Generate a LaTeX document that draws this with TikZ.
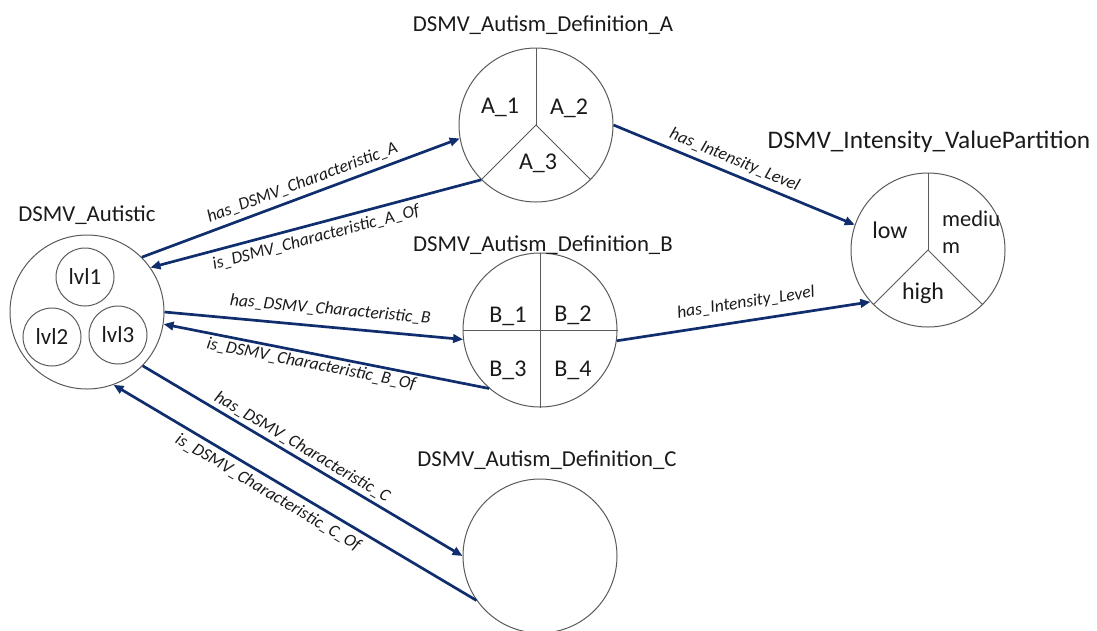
\documentclass[tikz,border=0pt]{standalone}
\usepackage{fontspec}
\setmainfont{Carlito}
\usetikzlibrary{arrows.meta}
\definecolor{link}{HTML}{102E6E}
\definecolor{rim}{HTML}{5A5A5A}
\definecolor{ink}{HTML}{1A1A1A}
\tikzset{
  concept/.style={circle, draw=rim, line width=1pt, inner sep=0pt, minimum size=154pt},
  level/.style={circle, draw=rim, line width=1pt, inner sep=0pt, minimum size=58pt,
                font=\fontsize{23}{27}\selectfont, text=ink},
  divider/.style={draw=rim, line width=0.9pt},
  title/.style={font=\fontsize{22.8}{27}\selectfont, text=ink, inner sep=0pt},
  part/.style={font=\fontsize{24}{28}\selectfont, text=ink, inner sep=0pt},
  rel/.style={draw=link, line width=2.7pt, -{Triangle[length=10pt,width=8.5pt]}},
  lab/.style={font=\fontsize{17.5}{20}\selectfont\itshape, text=ink, sloped, inner sep=5pt}
}
\begin{document}
\begin{tikzpicture}[x=1pt,y=-1pt]
\useasboundingbox (0,0) rectangle (1097,630);

% concepts
\node[concept] (aut)  at (87,312)  {};
\node[concept] (defA) at (536,125) {};
\node[concept] (defB) at (540,330) {};
\node[concept] (defC) at (540,556) {};
\node[concept] (int)  at (928,250) {};

% titles
\node[title] (tAut)  at (87,215)  {DSMV\_Autistic};
\node[title] (tDefA) at (543,25)  {DSMV\_Autism\_Definition\_A};
\node[title] (tDefB) at (543,245) {DSMV\_Autism\_Definition\_B};
\node[title] (tDefC) at (547,460) {DSMV\_Autism\_Definition\_C};
\node[title, font=\fontsize{25.3}{30}\selectfont] (tInt) at (929,142) {DSMV\_Intensity\_ValuePartition};

% severity levels inside the autistic concept
\node[level] (l1) at (85,277)  {lvl1};
\node[level] (l2) at (52,337)  {lvl2};
\node[level] (l3) at (118,335) {lvl3};

% definition A split in three
\draw[divider] (defA.center) -- (defA.90);
\draw[divider] (defA.center) -- (defA.225);
\draw[divider] (defA.center) -- (defA.315);
\node[part] (a1) at (500,107) {A\_1};
\node[part] (a2) at (569,108) {A\_2};
\node[part] (a3) at (538,163) {A\_3};

% definition B split in four
\draw[divider] (defB.north) -- (defB.south);
\draw[divider] (defB.west) -- (defB.east);
\node[part] (b1) at (508,316) {B\_1};
\node[part] (b2) at (573,315) {B\_2};
\node[part] (b3) at (508,370) {B\_3};
\node[part] (b4) at (573,370) {B\_4};

% intensity value partition
\draw[divider] (int.center) -- (int.90);
\draw[divider] (int.center) -- (int.225);
\draw[divider] (int.center) -- (int.315);
\node[part] (low)  at (890,230) {low};
\node[part, font=\fontsize{22.5}{26}\selectfont, anchor=base west] (med1) at (942,226) {mediu};
\node[part, font=\fontsize{22.5}{26}\selectfont, anchor=base west] (med2) at (942,253) {m};
\node[part] (high) at (923,293) {high};

% relations
\draw[rel] (aut.45) -- node[lab, above, pos=0.52] {has\_DSMV\_Characteristic\_A} (defA.190);
\draw[rel] (defA.225) -- node[lab, below, pos=0.51] {is\_DSMV\_Characteristic\_A\_Of} (aut.35);
\draw[rel] (aut.0) -- node[lab, above=4pt, pos=0.55] {has\_DSMV\_Characteristic\_B} (defB.187);
\draw[rel] (defB.229) -- node[lab, below, inner sep=2pt, pos=0.54] {is\_DSMV\_Characteristic\_B\_Of} (aut.-9);
\draw[rel] (aut.-44) -- node[lab, above, inner sep=3pt, pos=0.48] {has\_DSMV\_Characteristic\_C} (defC.180);
\draw[rel] (defC.215) -- node[lab, below, inner sep=5pt, pos=0.555] {is\_DSMV\_Characteristic\_C\_Of} (aut.-70);
\draw[rel] (defA.0) -- node[lab, above, pos=0.48] {has\_Intensity\_Level} (int.161);
\draw[rel] (defB.-8) -- node[lab, above=4pt, pos=0.52] {has\_Intensity\_Level} (int.222);
\end{tikzpicture}
\end{document}
